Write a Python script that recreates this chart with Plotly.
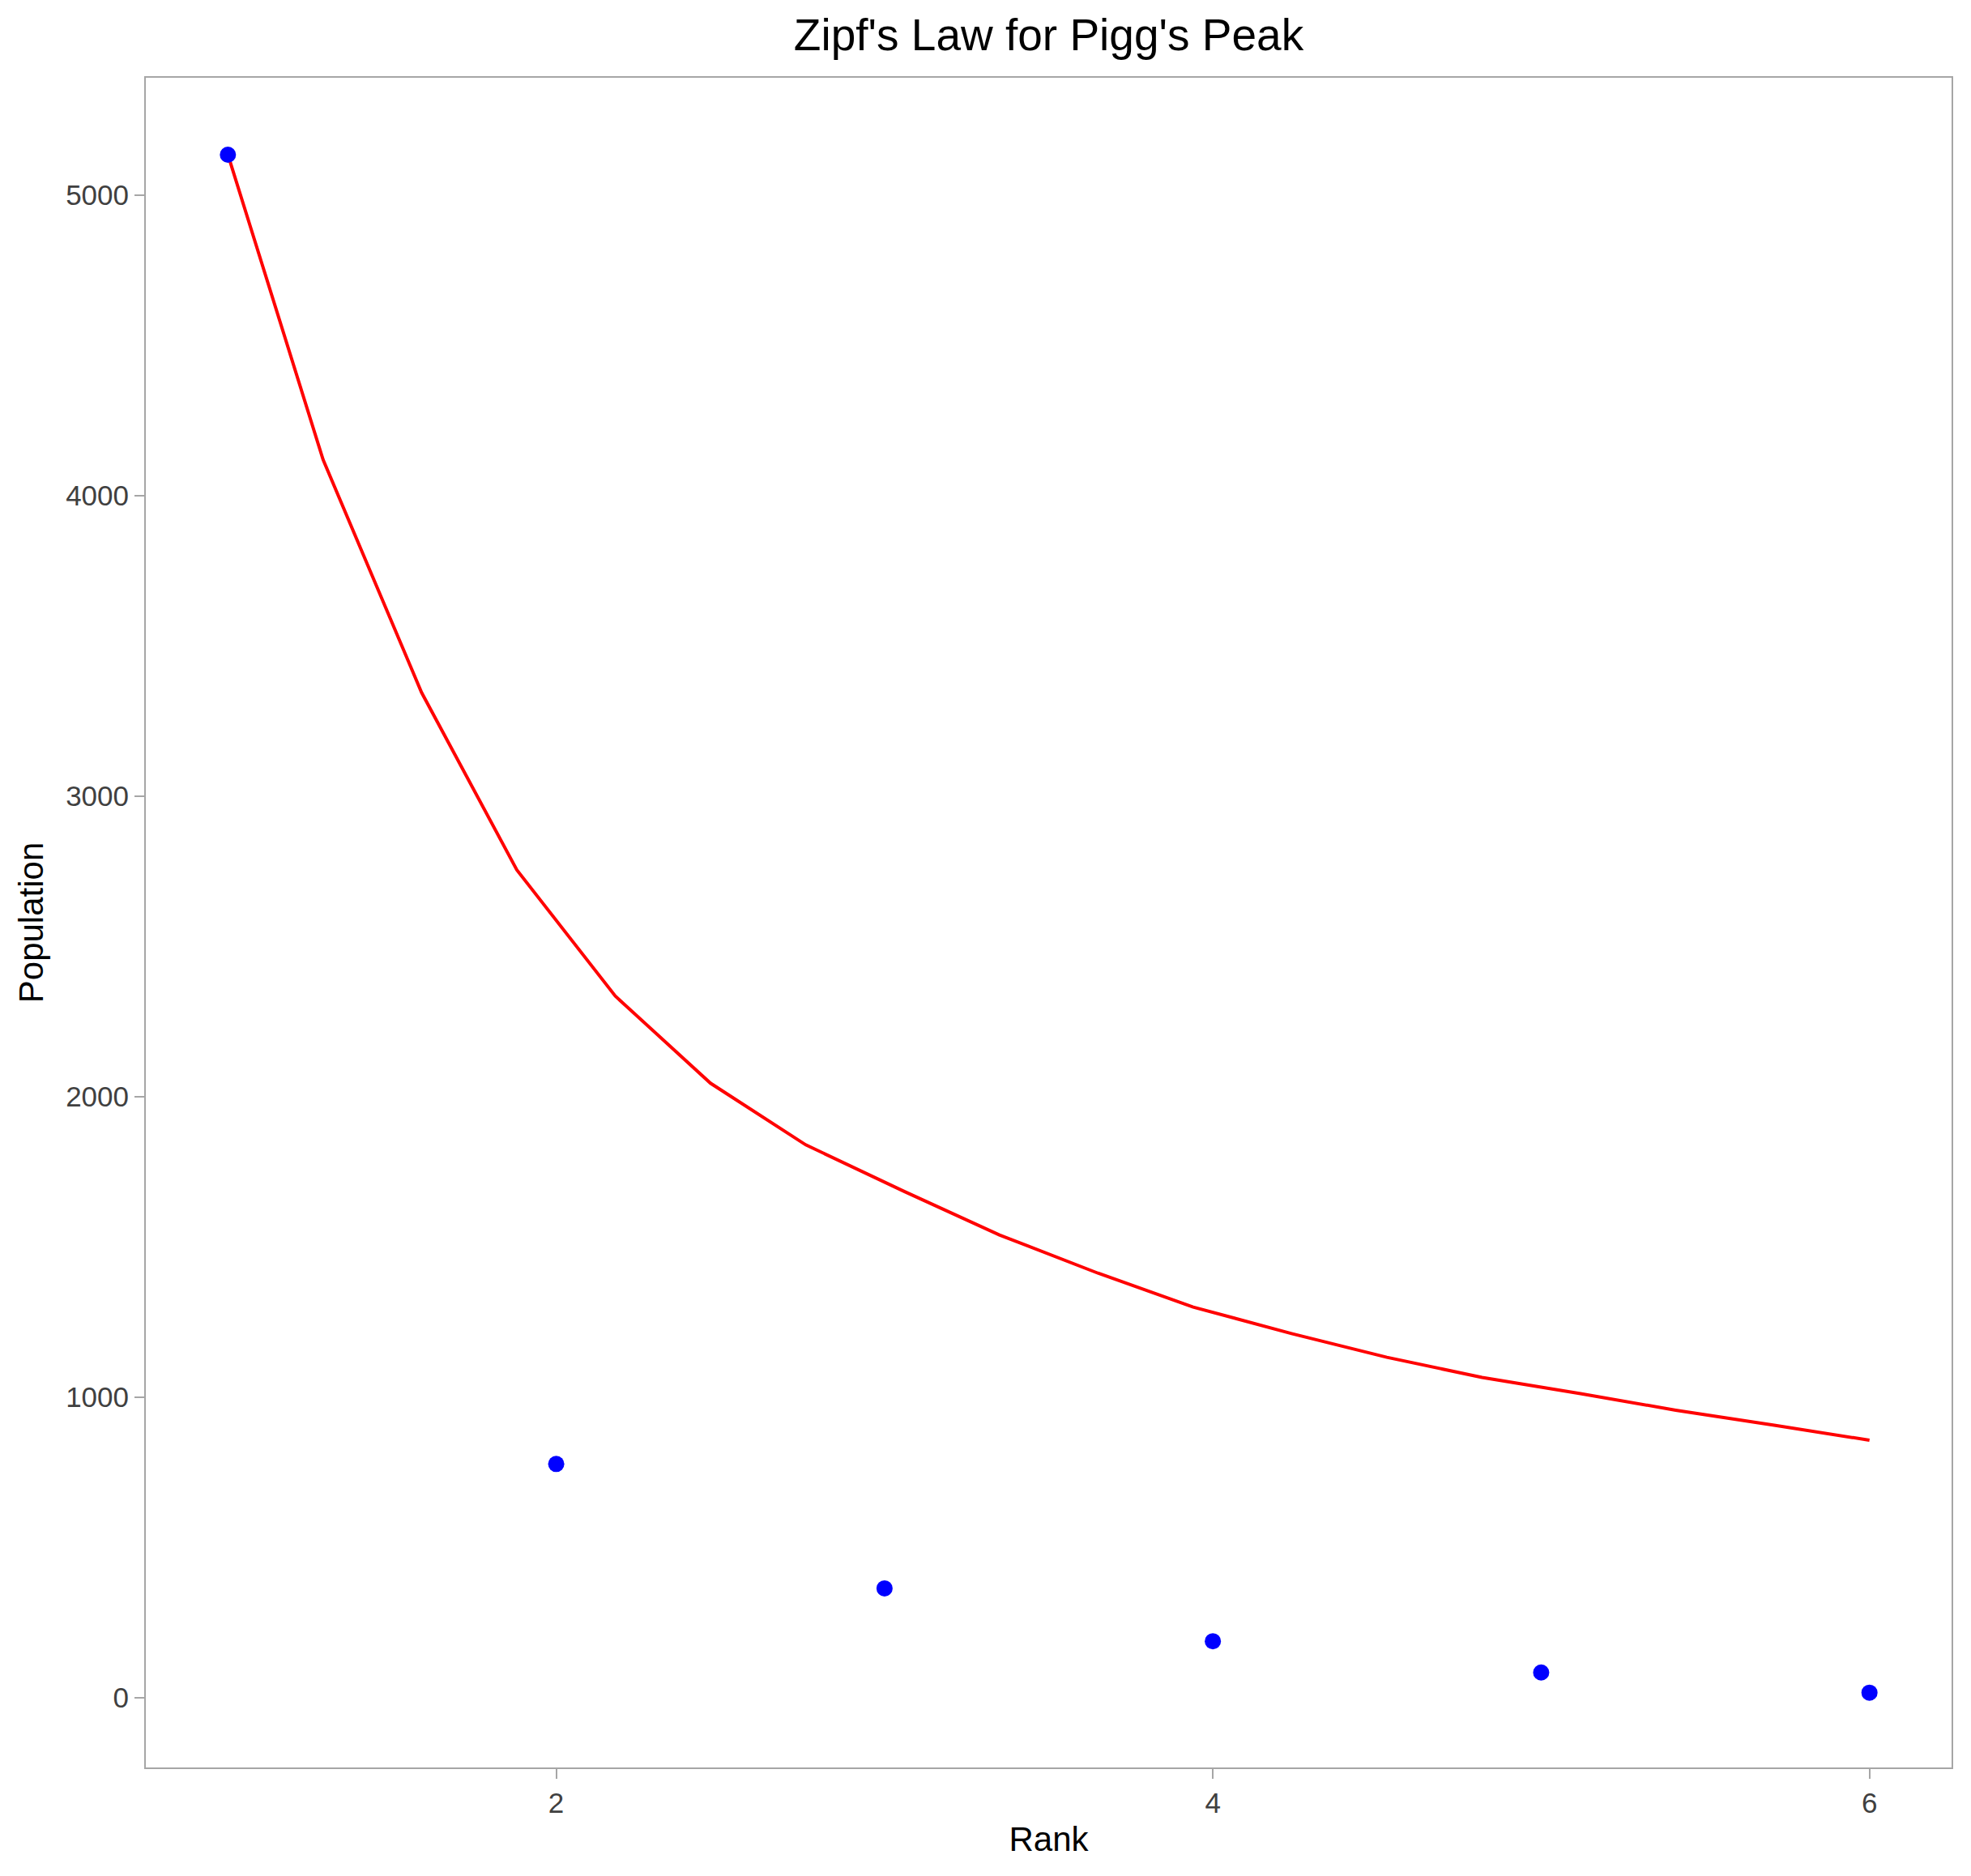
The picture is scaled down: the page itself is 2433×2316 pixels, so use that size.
"""
Zipf's Law for Pigg's Peak: observed settlement populations by rank
against the Zipf reference curve.
"""

import plotly.graph_objects as go

# ── Data ────────────────────────────────────────────────────────────────
ranks = [1, 2, 3, 4, 5, 6]
population = [5135, 778, 364, 188, 84, 17]

zipf_rank = [1.0, 1.29, 1.59, 1.88, 2.18, 2.47, 2.76, 3.06, 3.35,
             3.65, 3.94, 4.24, 4.53, 4.82, 5.12, 5.41, 5.71, 6.0]
zipf_population = [5135, 4120, 3345, 2755, 2335, 2045, 1840, 1685, 1540,
                   1413, 1300, 1212, 1133, 1066, 1012, 957, 907, 857]

FONT = "Liberation Sans, Arial, sans-serif"
AXIS_GREY = "#a6a6a6"

# page body has an 8px margin, so the figure is a bit smaller than the window
W, H = 2425, 2308

# ── Figure ──────────────────────────────────────────────────────────────
fig = go.Figure()
fig.add_trace(go.Scatter(
    x=zipf_rank, y=zipf_population,
    mode="lines",
    line=dict(color="red", width=4),
    name="Zipf's law",
))
fig.add_trace(go.Scatter(
    x=ranks, y=population,
    mode="markers",
    marker=dict(color="blue", size=20),
    name="Observed",
))

axis_style = dict(
    showline=True, mirror=True, linecolor=AXIS_GREY, linewidth=2,
    showgrid=False, zeroline=False,
    ticks="outside", ticklen=12, tickwidth=2, tickcolor=AXIS_GREY,
    tickfont=dict(family=FONT, size=35, color="#404040"),
)

fig.update_layout(
    width=W, height=H,
    paper_bgcolor="white", plot_bgcolor="white",
    showlegend=False,
    margin=dict(l=172, r=24, t=88, b=134),
    title=dict(
        text="Zipf's Law for Pigg's Peak",
        font=dict(family=FONT, size=55, color="black"),
        x=0.5, xref="paper", xanchor="center",
        y=1 - 35 / H, yref="container", yanchor="middle",
    ),
)
fig.update_xaxes(
    range=[0.75, 6.25], tick0=0, dtick=2,
    title=dict(text="Rank", font=dict(family=FONT, size=42, color="black"), standoff=12),
    automargin=False,
    **axis_style,
)
fig.update_yaxes(
    range=[-232, 5391], tick0=0, dtick=1000,
    title=dict(text="Population", font=dict(family=FONT, size=42, color="black"), standoff=14),
    automargin=False,
    **axis_style,
)

fig.write_html("out.html")
